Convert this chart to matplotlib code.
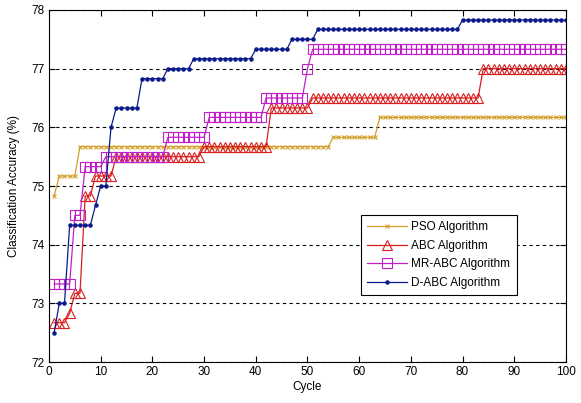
import matplotlib
matplotlib.use("Agg")
import matplotlib.pyplot as plt
import numpy as np

plt.rcParams['font.family'] = ['Liberation Sans', 'DejaVu Sans']

cycles = list(range(1, 101))

pso = [74.83, 75.17, 75.17, 75.17, 75.17, 75.67, 75.67, 75.67, 75.67, 75.67,
       75.67, 75.67, 75.67, 75.67, 75.67, 75.67, 75.67, 75.67, 75.67, 75.67,
       75.67, 75.67, 75.67, 75.67, 75.67, 75.67, 75.67, 75.67, 75.67, 75.67,
       75.67, 75.67, 75.67, 75.67, 75.67, 75.67, 75.67, 75.67, 75.67, 75.67,
       75.67, 75.67, 75.67, 75.67, 75.67, 75.67, 75.67, 75.67, 75.67, 75.67,
       75.67, 75.67, 75.67, 75.67, 75.83, 75.83, 75.83, 75.83, 75.83, 75.83,
       75.83, 75.83, 75.83, 76.17, 76.17, 76.17, 76.17, 76.17, 76.17, 76.17,
       76.17, 76.17, 76.17, 76.17, 76.17, 76.17, 76.17, 76.17, 76.17, 76.17,
       76.17, 76.17, 76.17, 76.17, 76.17, 76.17, 76.17, 76.17, 76.17, 76.17,
       76.17, 76.17, 76.17, 76.17, 76.17, 76.17, 76.17, 76.17, 76.17, 76.17]

abc = [72.67, 72.67, 72.67, 72.83, 73.17, 73.17, 74.83, 74.83, 75.17, 75.17,
       75.17, 75.17, 75.50, 75.50, 75.50, 75.50, 75.50, 75.50, 75.50, 75.50,
       75.50, 75.50, 75.50, 75.50, 75.50, 75.50, 75.50, 75.50, 75.50, 75.67,
       75.67, 75.67, 75.67, 75.67, 75.67, 75.67, 75.67, 75.67, 75.67, 75.67,
       75.67, 75.67, 76.33, 76.33, 76.33, 76.33, 76.33, 76.33, 76.33, 76.33,
       76.50, 76.50, 76.50, 76.50, 76.50, 76.50, 76.50, 76.50, 76.50, 76.50,
       76.50, 76.50, 76.50, 76.50, 76.50, 76.50, 76.50, 76.50, 76.50, 76.50,
       76.50, 76.50, 76.50, 76.50, 76.50, 76.50, 76.50, 76.50, 76.50, 76.50,
       76.50, 76.50, 76.50, 77.00, 77.00, 77.00, 77.00, 77.00, 77.00, 77.00,
       77.00, 77.00, 77.00, 77.00, 77.00, 77.00, 77.00, 77.00, 77.00, 77.00]

mr_abc = [73.33, 73.33, 73.33, 73.33, 74.50, 74.50, 75.33, 75.33, 75.33, 75.33,
          75.50, 75.50, 75.50, 75.50, 75.50, 75.50, 75.50, 75.50, 75.50, 75.50,
          75.50, 75.50, 75.83, 75.83, 75.83, 75.83, 75.83, 75.83, 75.83, 75.83,
          76.17, 76.17, 76.17, 76.17, 76.17, 76.17, 76.17, 76.17, 76.17, 76.17,
          76.17, 76.50, 76.50, 76.50, 76.50, 76.50, 76.50, 76.50, 76.50, 77.00,
          77.33, 77.33, 77.33, 77.33, 77.33, 77.33, 77.33, 77.33, 77.33, 77.33,
          77.33, 77.33, 77.33, 77.33, 77.33, 77.33, 77.33, 77.33, 77.33, 77.33,
          77.33, 77.33, 77.33, 77.33, 77.33, 77.33, 77.33, 77.33, 77.33, 77.33,
          77.33, 77.33, 77.33, 77.33, 77.33, 77.33, 77.33, 77.33, 77.33, 77.33,
          77.33, 77.33, 77.33, 77.33, 77.33, 77.33, 77.33, 77.33, 77.33, 77.33]

d_abc = [72.50, 73.00, 73.00, 74.33, 74.33, 74.33, 74.33, 74.33, 74.67, 75.00,
         75.00, 76.00, 76.33, 76.33, 76.33, 76.33, 76.33, 76.83, 76.83, 76.83,
         76.83, 76.83, 77.00, 77.00, 77.00, 77.00, 77.00, 77.17, 77.17, 77.17,
         77.17, 77.17, 77.17, 77.17, 77.17, 77.17, 77.17, 77.17, 77.17, 77.33,
         77.33, 77.33, 77.33, 77.33, 77.33, 77.33, 77.50, 77.50, 77.50, 77.50,
         77.50, 77.67, 77.67, 77.67, 77.67, 77.67, 77.67, 77.67, 77.67, 77.67,
         77.67, 77.67, 77.67, 77.67, 77.67, 77.67, 77.67, 77.67, 77.67, 77.67,
         77.67, 77.67, 77.67, 77.67, 77.67, 77.67, 77.67, 77.67, 77.67, 77.83,
         77.83, 77.83, 77.83, 77.83, 77.83, 77.83, 77.83, 77.83, 77.83, 77.83,
         77.83, 77.83, 77.83, 77.83, 77.83, 77.83, 77.83, 77.83, 77.83, 77.83]

labels = ['PSO Algorithm', 'ABC Algorithm', 'MR-ABC Algorithm', 'D-ABC Algorithm']
x_ticks = list(range(0, 101, 10))
y_ticks = [72, 73, 74, 75, 76, 77, 78]

fig = plt.figure(figsize=(5.81, 4.03), dpi=100)
ax = fig.add_axes([0.0843, 0.1017, 0.8898, 0.8735])

ax.plot(cycles, pso, color='#D4A02C', lw=0.9, marker='x', ms=3.5, mew=0.8,
        label=labels[0])
ax.plot(cycles, abc, color='#D81E1E', lw=0.9, marker='^', ms=6.5, mew=0.8,
        mfc='none', label=labels[1])
ax.plot(cycles, mr_abc, color='#C020C8', lw=0.9, marker='s', ms=7.5, mew=0.8,
        mfc='none', label=labels[2])
ax.plot(cycles, d_abc, color='#0A1A8C', lw=0.9, marker='.', ms=4.5,
        label=labels[3])

ax.set_xlim(0, 100)
ax.set_ylim(72, 78)
ax.set_xticks(x_ticks)
ax.set_yticks(y_ticks)
ax.tick_params(direction='in', top=True, right=True, labelsize=8.5, length=4,
               width=0.8, pad=3)
for s in ax.spines.values():
    s.set_linewidth(0.8)
ax.yaxis.grid(True, color='black', linestyle=(0, (3, 3)), linewidth=0.8)
ax.set_axisbelow(True)

ax.set_xlabel('Cycle', fontsize=8.5, labelpad=2)
ax.set_ylabel('Classification Accuracy (%)', fontsize=8.5, labelpad=8)

leg = ax.legend(loc='upper left', bbox_to_anchor=(0.603, 0.418), fontsize=8.5,
                fancybox=False, edgecolor='black', framealpha=1,
                handlelength=3.4, borderpad=0.55, labelspacing=0.55,
                handletextpad=0.35, borderaxespad=0)
leg.get_frame().set_linewidth(0.8)

fig.savefig('out.png', dpi=100)
